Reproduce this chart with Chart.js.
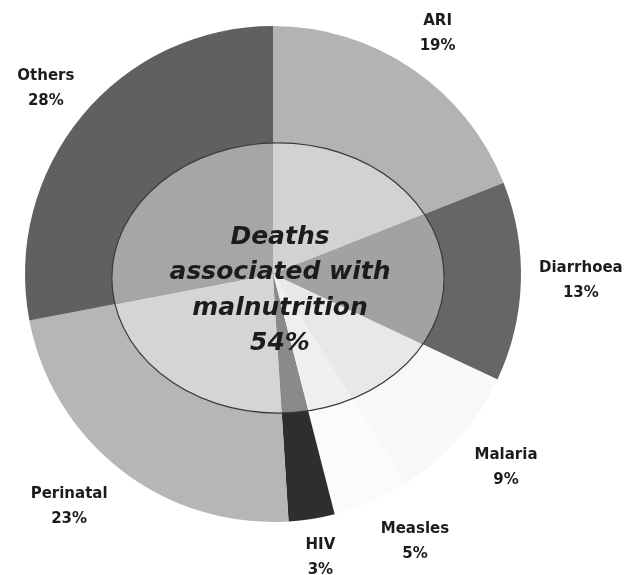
<!DOCTYPE html>
<html>
<head>
<meta charset="utf-8">
<script src="https://cdn.jsdelivr.net/npm/chart.js@4.4.0/dist/chart.umd.min.js"></script>
<style>
  html, body { margin: 0; padding: 0; background: #fff; }
  #wrap { width: 628px; height: 575px; position: relative; }
</style>
</head>
<body>
<div id="wrap"><canvas id="chart"></canvas></div>
<script>
// Causes of child deaths (%)
const causes = ['ARI', 'Diarrhoea', 'Malaria', 'Measles', 'HIV', 'Perinatal', 'Others'];
const shares = [19, 13, 9, 5, 3, 23, 28];
const centerLines = ['Deaths', 'associated with', 'malnutrition', '54%'];

// outer ring tones and the lighter tones inside the malnutrition ellipse
const outerColors = ['#b3b3b3', '#666666', '#f8f8f8', '#fbfbfb', '#2e2e2e', '#b6b6b6', '#606060'];
const innerColors = ['#d2d2d2', '#a2a2a2', '#e8e8e8', '#efefef', '#8a8a8a', '#d5d5d5', '#a6a6a6'];

// small nudges for each outside label: [extra radius, dx, dy]
const labelNudge = [
  [0, -4, 8], [6, 2, -3], [0, 8, -4], [-8, 26, 0], [-10, 2, -2], [0, -20, -4], [0, 4, 6]
];

const textColor = '#1c1c1c';

const overlayPlugin = {
  id: 'overlay',
  afterDatasetsDraw(chart) {
    const ctx = chart.ctx;
    const arcs = chart.getDatasetMeta(0).data;
    if (!arcs.length) return;
    const p0 = arcs[0].getProps(['x', 'y', 'outerRadius'], true);
    const cx = p0.x, cy = p0.y, R = p0.outerRadius;

    // ellipse of deaths linked to malnutrition
    const ex = cx + 5, ey = cy + 4, rx = R * 0.67, ry = R * 0.545;

    ctx.save();
    ctx.beginPath();
    ctx.ellipse(ex, ey, rx, ry, 0, 0, Math.PI * 2);
    ctx.clip();
    arcs.forEach((arc, i) => {
      const p = arc.getProps(['x', 'y', 'startAngle', 'endAngle', 'outerRadius'], true);
      ctx.beginPath();
      ctx.moveTo(p.x, p.y);
      ctx.arc(p.x, p.y, p.outerRadius, p.startAngle, p.endAngle);
      ctx.closePath();
      ctx.fillStyle = innerColors[i];
      ctx.fill();
    });
    ctx.restore();

    ctx.save();
    ctx.beginPath();
    ctx.ellipse(ex, ey, rx, ry, 0, 0, Math.PI * 2);
    ctx.strokeStyle = '#3a3a3a';
    ctx.lineWidth = 1.2;
    ctx.stroke();

    // centre text
    ctx.fillStyle = textColor;
    ctx.textAlign = 'center';
    ctx.textBaseline = 'middle';
    ctx.font = 'italic bold 25px "DejaVu Sans", sans-serif';
    centerLines.forEach((t, i) => {
      ctx.fillText(t, ex + 2, ey - 41 + i * 35.5);
    });

    // outside labels
    ctx.font = 'bold 15px "DejaVu Sans", sans-serif';
    arcs.forEach((arc, i) => {
      const p = arc.getProps(['startAngle', 'endAngle'], true);
      const mid = (p.startAngle + p.endAngle) / 2;
      const n = labelNudge[i];
      const d = R + 52 + n[0];
      const lx = cx + Math.cos(mid) * d + n[1];
      const ly = cy + Math.sin(mid) * d + n[2];
      ctx.fillText(causes[i], lx, ly - 13);
      ctx.fillText(shares[i] + '%', lx, ly + 12);
    });
    ctx.restore();
  }
};

new Chart(document.getElementById('chart'), {
  type: 'pie',
  data: {
    labels: causes,
    datasets: [{
      data: shares,
      backgroundColor: outerColors,
      borderWidth: 0,
      hoverOffset: 0,
      offset: 0
    }]
  },
  options: {
    responsive: true,
    maintainAspectRatio: false,
    animation: false,
    events: [],
    layout: { padding: { top: 26, bottom: 53, left: 25, right: 107 } },
    plugins: {
      legend: { display: false },
      tooltip: { enabled: false }
    }
  },
  plugins: [overlayPlugin]
});
</script>
</body>
</html>
